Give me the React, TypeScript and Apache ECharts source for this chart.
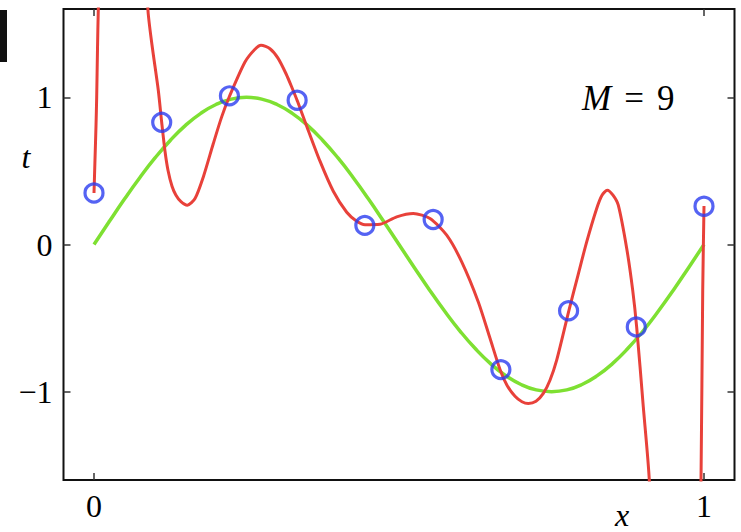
import React, { useEffect, useRef } from "react";
import * as echarts from "echarts";

// Observed data points (x, t)
const pointX = [0, 0.111, 0.222, 0.333, 0.444, 0.556, 0.667, 0.778, 0.889, 1];
const pointT = [0.35, 0.83, 1.01, 0.98, 0.13, 0.17, -0.85, -0.45, -0.56, 0.26];

// Green curve
const greenX = [0, 0.025, 0.05, 0.075, 0.1, 0.125, 0.15, 0.175, 0.2, 0.225, 0.25, 0.275, 0.3, 0.325, 0.35, 0.375, 0.4, 0.425, 0.45, 0.475, 0.5,
  0.525, 0.55, 0.575, 0.6, 0.625, 0.65, 0.675, 0.7, 0.725, 0.75, 0.775, 0.8, 0.825, 0.85, 0.875, 0.9, 0.925, 0.95, 0.975, 1];
const greenT = [0, 0.156, 0.309, 0.454, 0.588, 0.707, 0.809, 0.891, 0.951, 0.988, 1, 0.988, 0.951, 0.891, 0.809, 0.707, 0.588, 0.454, 0.309, 0.156, 0,
  -0.156, -0.309, -0.454, -0.588, -0.707, -0.809, -0.891, -0.951, -0.988, -1, -0.988, -0.951, -0.891, -0.809, -0.707, -0.588, -0.454, -0.309, -0.156, 0];

// Red curve (M = 9 fit)
const redX = [0, 0.0016, 0.0033, 0.0044, 0.0057, 0.007, 0.012, 0.02, 0.035, 0.05, 0.065, 0.078, 0.0885, 0.0951, 0.1054, 0.111,
  0.1164, 0.1213, 0.1279, 0.1344, 0.1426, 0.153, 0.1656, 0.1792, 0.1956, 0.2093, 0.2221, 0.2475, 0.2639, 0.2738, 0.2885,
  0.3016, 0.3148, 0.3246, 0.3333, 0.3487, 0.3705, 0.3923, 0.4143, 0.4307, 0.4443, 0.4689, 0.4962, 0.5234, 0.5508, 0.5782,
  0.6028, 0.63, 0.6492, 0.6656, 0.677, 0.6902, 0.7016, 0.712, 0.7246, 0.7366, 0.7475, 0.7585, 0.7787, 0.7934, 0.8077,
  0.8241, 0.8328, 0.8415, 0.8508, 0.8595, 0.8733, 0.8831, 0.8897, 0.9005, 0.9103, 0.92, 0.935, 0.95, 0.97, 0.985, 0.992,
  0.9951, 0.9979, 1];
const redT = [0.35, 0.573, 0.81, 1.0, 1.32, 1.59, 2.3, 3.2, 4.2, 4.3, 3.6, 2.5, 1.59, 1.355, 1.048, 0.829,
  0.634, 0.505, 0.396, 0.335, 0.291, 0.267, 0.312, 0.459, 0.686, 0.867, 1.007, 1.24, 1.327, 1.354, 1.33,
  1.266, 1.16, 1.065, 0.976, 0.804, 0.566, 0.362, 0.219, 0.158, 0.135, 0.138, 0.188, 0.211, 0.177, 0.063,
  -0.118, -0.39, -0.637, -0.849, -0.956, -1.031, -1.068, -1.08, -1.065, -1.012, -0.922, -0.786, -0.446, -0.209, 0.018,
  0.245, 0.335, 0.369, 0.335, 0.267, -0.027, -0.31, -0.564, -1.103, -1.6, -2.8, -4.5, -6, -6, -4, -2.2,
  -1.6, -0.31, 0.262];

const xTicks = [0, 1];
const yTicks = [-1, 0, 1];

const SERIF = "'Liberation Serif', 'DejaVu Serif', serif";

export default function App() {
  const ref = useRef<HTMLDivElement>(null);
  useEffect(() => {
    if (!ref.current) return;
    const chart = echarts.init(ref.current, null, { renderer: "svg" });
    const fmt = (v: number) => (v < 0 ? "\u2212" + Math.abs(v) : String(v));
    const tickStyle = { color: "#333", width: 1.5 };
    const labelStyle = { fontFamily: SERIF, fontSize: 32, color: "#000" };
    const baseX = {
      type: "value", min: -0.05, max: 1.05,
      axisLine: { show: false, onZero: false }, splitLine: { show: false },
      axisTick: { show: true, inside: true, length: 7, lineStyle: tickStyle, customValues: xTicks },
    };
    const baseY = {
      type: "value", min: -1.6, max: 1.6,
      axisLine: { show: false, onZero: false }, splitLine: { show: false },
      axisTick: { show: true, inside: true, length: 7, lineStyle: tickStyle, customValues: yTicks },
    };
    chart.setOption({
      animation: false,
      backgroundColor: "#fff",
      grid: { left: 63.5, right: 6.5, top: 9, bottom: 52, show: true, borderColor: "#111", borderWidth: 2, backgroundColor: "transparent" },
      xAxis: [
        { ...baseX, position: "bottom", axisLabel: { ...labelStyle, margin: 10, customValues: xTicks, formatter: fmt } },
        { ...baseX, position: "top", axisLabel: { show: false } },
      ],
      yAxis: [
        { ...baseY, position: "left", axisLabel: { ...labelStyle, margin: 11, customValues: yTicks, formatter: fmt } },
        { ...baseY, position: "right", axisLabel: { show: false } },
      ],
      series: [
        {
          type: "line", name: "sin", data: greenX.map((x, i) => [x, greenT[i]]),
          showSymbol: false, smooth: true, clip: true, z: 2,
          lineStyle: { color: "#7ee032", width: 3.5 },
        },
        {
          type: "line", name: "fit", data: redX.map((x, i) => [x, redT[i]]),
          showSymbol: false, smooth: 0.25, clip: true, z: 3,
          lineStyle: { color: "#e8413a", width: 3 },
        },
        {
          type: "scatter", name: "data", data: pointX.map((x, i) => [x, pointT[i]]),
          symbol: "circle", symbolSize: 18, z: 4,
          itemStyle: { color: "rgba(0,0,0,0)", borderColor: "#2b3cf0", borderWidth: 3.2 },
        },
      ],
      graphic: [
        { type: "rect", shape: { x: 0, y: 10, width: 7, height: 52 }, style: { fill: "#111" } },
        { type: "text", x: 26, y: 157, style: { text: "t", font: `italic 32px ${SERIF}`, fill: "#000", align: "center", verticalAlign: "middle" } },
        { type: "text", x: 622, y: 531, style: { text: "x", font: `italic 32px ${SERIF}`, fill: "#000", align: "center", verticalAlign: "bottom" } },
        {
          type: "text", x: 582, y: 98,
          style: {
            text: "{i|M}{e|=}{n|9}", fill: "#000", verticalAlign: "middle",
            font: `35px ${SERIF}`,
            rich: {
              i: { fontStyle: "italic", fontFamily: SERIF, fontSize: 35, fill: "#000" },
              e: { fontFamily: SERIF, fontSize: 35, fill: "#000", padding: [0, 13] },
              n: { fontFamily: SERIF, fontSize: 35, fill: "#000" },
            },
          },
        },
      ],
    });
    return () => chart.dispose();
  }, []);
  return <div ref={ref} style={{ position: "fixed", left: 0, top: 0, width: 741, height: 532 }} />;
}
